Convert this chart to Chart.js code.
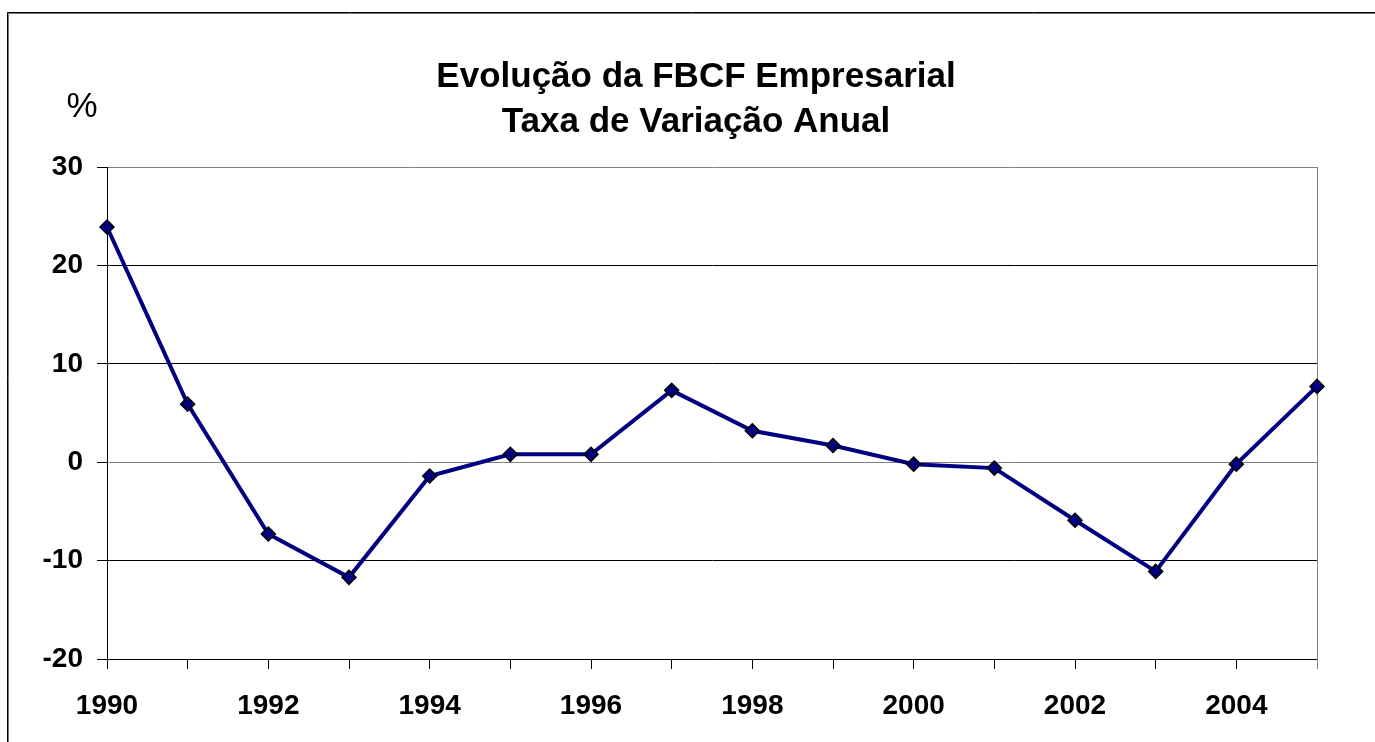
<!DOCTYPE html>
<html>
<head>
<meta charset="utf-8">
<title>Evolução da FBCF Empresarial</title>
<script src="https://cdn.jsdelivr.net/npm/chart.js@4/dist/chart.umd.min.js"></script>
<style>
  html, body { margin: 0; padding: 0; background: #fff; }
  canvas { display: block; }
</style>
</head>
<body>
<canvas id="fbcf-chart" width="1375" height="742"></canvas>
<script>
'use strict';

const years = ['1990', '1991', '1992', '1993', '1994', '1995', '1996', '1997',
               '1998', '1999', '2000', '2001', '2002', '2003', '2004', '2005'];
const taxaVariacao = [23.9, 5.9, -7.3, -11.7, -1.4, 0.8, 0.8, 7.3,
                      3.2, 1.7, -0.2, -0.6, -5.9, -11.1, -0.2, 7.7];
const titleLines = ['Evolução da FBCF Empresarial', 'Taxa de Variação Anual'];
const yTicks = [-20, -10, 0, 10, 20, 30];
const unitLabel = '%';

const FONT = "'Liberation Sans', Arial, sans-serif";

// frame, title (centred a bit right of the canvas, as in the source), plot border and "%"
const decorations = {
  id: 'decorations',
  beforeDraw: function(chart) {
    const ctx = chart.ctx;
    ctx.save();
    ctx.fillStyle = '#fff';
    ctx.fillRect(0, 0, chart.width, chart.height);
    ctx.lineWidth = 1;
    ctx.strokeStyle = '#000';
    ctx.beginPath();
    ctx.moveTo(7.5, chart.height);
    ctx.lineTo(7.5, 12.5);
    ctx.lineTo(chart.width, 12.5);
    ctx.stroke();
    ctx.strokeStyle = '#777';
    ctx.beginPath();
    ctx.moveTo(8.5, chart.height);
    ctx.lineTo(8.5, 13.5);
    ctx.lineTo(chart.width, 13.5);
    ctx.stroke();
    ctx.restore();
  },
  beforeDatasetsDraw: function(chart) {
    const a = chart.chartArea;
    const ctx = chart.ctx;
    ctx.save();
    ctx.strokeStyle = '#808080';
    ctx.lineWidth = 1;
    ctx.beginPath();
    ctx.moveTo(Math.round(a.right) + 0.5, a.top);
    ctx.lineTo(Math.round(a.right) + 0.5, a.bottom + 10);
    ctx.stroke();
    ctx.restore();
  },
  afterDraw: function(chart) {
    const ctx = chart.ctx;
    ctx.save();
    ctx.fillStyle = '#000';
    ctx.textAlign = 'center';
    ctx.textBaseline = 'middle';
    ctx.font = 'bold 35px ' + FONT;
    titleLines.forEach(function(line, i) {
      ctx.fillText(line, 696, 77 + i * 45);
    });
    ctx.font = '35px ' + FONT;
    ctx.fillText(unitLabel, 82, 107);
    ctx.restore();
  }
};

new Chart(document.getElementById('fbcf-chart'), {
  type: 'line',
  data: {
    labels: years,
    datasets: [{
      data: taxaVariacao,
      borderColor: '#000080',
      borderWidth: 4,
      tension: 0,
      pointStyle: 'rectRot',
      pointRadius: 7,
      pointHoverRadius: 7,
      pointBackgroundColor: '#000080',
      pointBorderColor: '#000',
      pointBorderWidth: 1.5,
      clip: false
    }]
  },
  options: {
    responsive: false,
    animation: false,
    events: [],
    layout: {
      padding: { left: 0, right: 58, top: 167, bottom: 0 }
    },
    plugins: {
      legend: { display: false },
      tooltip: { enabled: false },
      title: { display: false }
    },
    scales: {
      x: {
        type: 'category',
        offset: false,
        afterFit: function(scale) { scale.height = 83; },
        border: { display: true, color: '#000', width: 1 },
        grid: {
          drawOnChartArea: false,
          drawTicks: true,
          tickLength: 10,
          tickColor: function(c) { return c.index === years.length - 1 ? '#808080' : '#000'; }
        },
        ticks: {
          autoSkip: false,
          maxRotation: 0,
          minRotation: 0,
          padding: 20,
          color: '#000',
          font: { family: FONT, size: 28, weight: 'bold' },
          callback: function(value, index) {
            return index % 2 === 0 ? years[index] : '';
          }
        }
      },
      y: {
        min: yTicks[0],
        max: yTicks[yTicks.length - 1],
        afterFit: function(scale) { scale.width = 107; },
        afterBuildTicks: function(scale) {
          scale.ticks = yTicks.map(function(v) { return { value: v }; });
        },
        border: { display: true, color: '#000', width: 1 },
        grid: {
          drawTicks: true,
          tickLength: 10,
          tickColor: '#000',
          lineWidth: 1,
          color: function(c) {
            if (c.tick && (c.tick.value === 30 || c.tick.value === 0)) return '#808080';
            return '#000';
          }
        },
        ticks: {
          padding: 14,
          color: '#000',
          font: { family: FONT, size: 28, weight: 'bold' }
        }
      }
    }
  },
  plugins: [decorations]
});
</script>
</body>
</html>
